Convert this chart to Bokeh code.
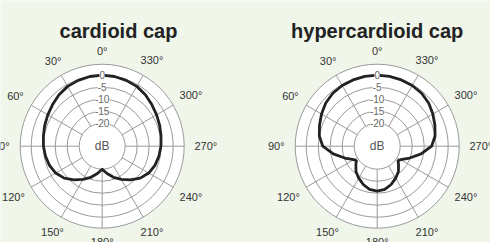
import math
from bokeh.plotting import figure
from bokeh.models import Range1d
from bokeh.core.properties import value
from bokeh.embed import file_html
from bokeh.resources import INLINE

# ---------------- data ----------------
titles = ["cardioid cap", "hypercardioid cap"]

# angle (deg, counter-clockwise from 0° at top) -> level (dB); pattern is symmetric
card_angles = [0, 10, 20, 30, 40, 50, 60, 70, 80, 90, 100, 110, 120, 130, 140, 150, 160, 170, 180]
card_db = [0, -0.1, -0.4, -0.8, -1.6, -2.6, -3.4, -4.1, -4.7, -5.1, -5.6, -6.2, -7.2, -8.9, -11.3, -13.6, -15.8, -18.0, -20.0]

hyper_angles = [0, 10, 20, 30, 40, 50, 60, 70, 80, 90, 100, 110, 120, 125, 130, 140, 150, 160, 170, 180]
hyper_db = [0, -0.05, -0.2, -0.4, -0.8, -1.6, -2.8, -4.0, -5.1, -6.9, -11.0, -15.2, -18.3, -19.0, -18.0, -15.8, -14.2, -12.6, -11.3, -10.9]

ring_db = [-20, -15, -10, -5, 0]
ring_labels = ["-20", "-15", "-10", "-5", "0"]
spoke_angles = [30, 60, 90, 120, 150, 180, 210, 240, 270, 300, 330]
label_angles = [0, 30, 60, 90, 120, 150, 180, 210, 240, 270, 300, 330]
angle_labels = ["0°", "30°", "60°", "90°", "120°", "150°", "180°", "210°", "240°", "270°", "300°", "330°"]
center_label = "dB"

# ---------------- layout ----------------
BG = "#f0f6ea"
GRID = "#9a9a9a"
FONT = "Liberation Sans"
CENTERS = [(101.7, 145.7), (376.7, 145.7)]
TITLE_X = [118.0, 376.7]
TITLE_Y = 30.5
R0, K, R_OUT = 23.0, 2.4, 82.0


def rad(db):
    return R0 + (db + 20.0) * K


def pt(cx, cy, r, a):
    t = math.radians(a)
    return cx - r * math.sin(t), cy - r * math.cos(t)


W, H = 490, 242
p = figure(width=W, height=H, output_backend="svg", toolbar_location=None,
           x_range=Range1d(0, W), y_range=Range1d(H, 0),
           min_border=0, background_fill_color=BG, border_fill_color=BG)
p.axis.visible = False
p.grid.visible = False
p.outline_line_color = None

patterns = [(card_angles, card_db), (hyper_angles, hyper_db)]

for i, (cx, cy) in enumerate(CENTERS):
    # disc
    p.circle(x=[cx], y=[cy], radius=R_OUT, fill_color="white", line_color=GRID, line_width=1)
    # rings
    p.circle(x=[cx] * len(ring_db), y=[cy] * len(ring_db), radius=[rad(d) for d in ring_db],
             fill_color=None, line_color=GRID, line_width=1)
    # spokes
    xs, ys = [], []
    for a in spoke_angles:
        x0, y0 = pt(cx, cy, R0, a)
        x1, y1 = pt(cx, cy, R_OUT, a)
        xs.append([x0, x1])
        ys.append([y0, y1])
    p.multi_line(xs, ys, line_color=GRID, line_width=1)

    # pattern curve (mirror for the other half)
    angs, dbs = patterns[i]
    full_a = list(angs) + [360 - a for a in reversed(angs[:-1])]
    full_d = list(dbs) + list(reversed(dbs[:-1]))
    cxs, cys = [], []
    for a, d in zip(full_a, full_d):
        x, y = pt(cx, cy, rad(d), a)
        cxs.append(x)
        cys.append(y)
    p.line(cxs, cys, line_color="#222222", line_width=2.8, line_join="round")

    # ring labels
    p.text(x=[cx] * len(ring_db), y=[cy - rad(d) for d in ring_db], text=ring_labels,
           text_font=value(FONT), text_font_size="10px", text_color="#666666",
           text_align="center", text_baseline="middle",
           background_fill_color="white", padding=0)
    # center label
    p.text(x=[cx], y=[cy], text=[center_label], text_font=value(FONT), text_font_size="12px",
           text_color="#555555", text_align="center", text_baseline="middle")

    # angle labels
    lx, ly = [], []
    for a, s in zip(label_angles, angle_labels):
        hw = 3.0 * len(s)
        rc = 95.5 + (hw - 3.0) * abs(math.sin(math.radians(a))) * 0.9
        x, y = pt(cx, cy, rc, a)
        lx.append(x)
        ly.append(y)
    p.text(x=lx, y=ly, text=angle_labels, text_font=value(FONT), text_font_size="11px",
           text_color="#333333", text_align="center", text_baseline="middle")

    # title
    p.text(x=[TITLE_X[i]], y=[TITLE_Y], text=[titles[i]], text_font=value(FONT),
           text_font_size="20px", text_font_style="bold", text_color="#222222",
           text_align="center", text_baseline="alphabetic")

open("out.html", "w").write(file_html(p, INLINE))
